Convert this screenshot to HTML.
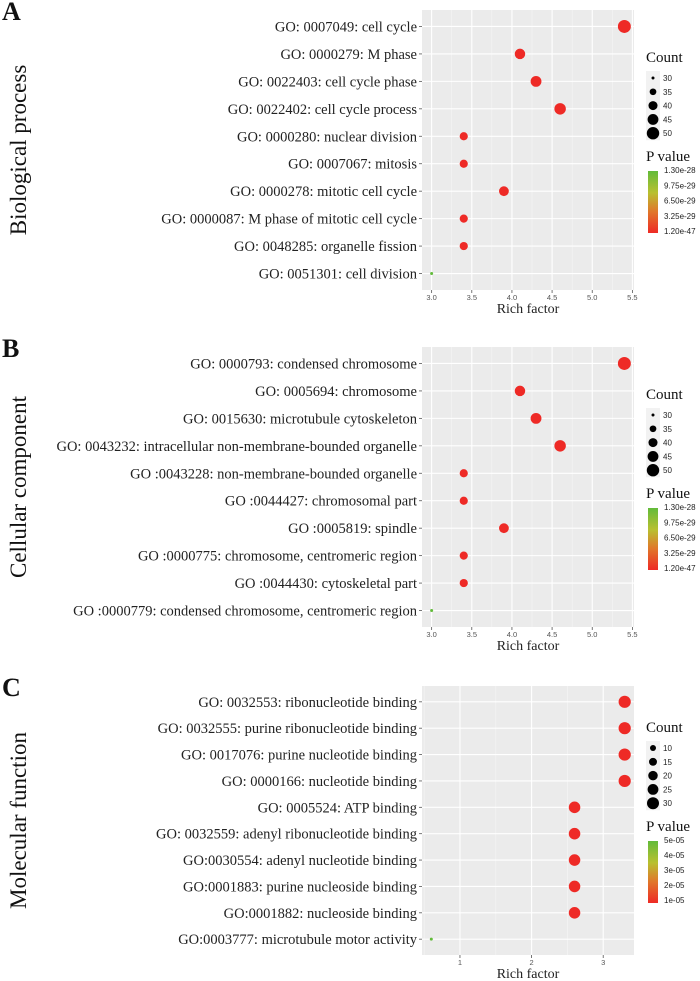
<!DOCTYPE html>
<html><head><meta charset="utf-8">
<style>
body{margin:0;background:#fff;width:700px;height:981px;overflow:hidden}
svg{display:block}
.lab{font-family:"Liberation Serif",serif;font-size:14.5px;fill:#222}
.tick{font-family:"Liberation Sans",sans-serif;font-size:7.5px;fill:#555}
.axt{font-family:"Liberation Serif",serif;font-size:14px;fill:#222}
.lt{font-family:"Liberation Serif",serif;font-size:15px;fill:#111}
.ll{font-family:"Liberation Sans",sans-serif;font-size:8px;fill:#222}
.big{font-family:"Liberation Serif",serif;font-size:23px;fill:#111}
.let{font-family:"Liberation Serif",serif;font-size:26px;font-weight:bold;fill:#111}
</style></head>
<body>
<svg id="chart" width="700" height="981" xmlns="http://www.w3.org/2000/svg">
<defs>
<linearGradient id="pg" x1="0" y1="1" x2="0" y2="0">
<stop offset="0" stop-color="#ee2a26"/><stop offset="0.35" stop-color="#e0782a"/><stop offset="0.65" stop-color="#b8c030"/><stop offset="1" stop-color="#62bb3a"/>
</linearGradient>
</defs>
</svg>
<script>
const aTerms=["GO: 0007049: cell cycle","GO: 0000279: M phase","GO: 0022403: cell cycle phase","GO: 0022402: cell cycle process","GO: 0000280: nuclear division","GO: 0007067: mitosis","GO: 0000278: mitotic cell cycle","GO: 0000087: M phase of mitotic cell cycle","GO: 0048285: organelle fission","GO: 0051301: cell division"];
const aRich=[5.4,4.1,4.3,4.6,3.4,3.4,3.9,3.4,3.4,3.0];
const aCount=[52,44,45,47,38,38,42,38,38,30];
const aP=[0,0,0,0,0,0,0,0,0,1];
const bTerms=["GO: 0000793: condensed chromosome","GO: 0005694: chromosome","GO: 0015630: microtubule cytoskeleton","GO: 0043232: intracellular non-membrane-bounded organelle","GO :0043228: non-membrane-bounded organelle","GO :0044427: chromosomal part","GO :0005819: spindle","GO :0000775: chromosome, centromeric region","GO :0044430: cytoskeletal part","GO :0000779: condensed chromosome, centromeric region"];
const bRich=[5.4,4.1,4.3,4.6,3.4,3.4,3.9,3.4,3.4,3.0];
const bCount=[52,44,45,47,38,38,42,38,38,30];
const bP=[0,0,0,0,0,0,0,0,0,1];
const cTerms=["GO: 0032553: ribonucleotide binding","GO: 0032555: purine ribonucleotide binding","GO: 0017076: purine nucleotide binding","GO: 0000166: nucleotide binding","GO: 0005524: ATP binding","GO: 0032559: adenyl ribonucleotide binding","GO:0030554: adenyl nucleotide binding","GO:0001883: purine nucleoside binding","GO:0001882: nucleoside binding","GO:0003777: microtubule motor activity"];
const cRich=[3.3,3.3,3.3,3.3,2.6,2.6,2.6,2.6,2.6,0.6];
const cCount=[31,31,31,31,28,28,28,28,28,5];
const cP=[0,0,0,0,0,0,0,0,0,1];
const abTicks=[3.0,3.5,4.0,4.5,5.0,5.5];
const abTickLabels=["3.0","3.5","4.0","4.5","5.0","5.5"];
const cTicks=[1,2,3];
const cTickLabels=["1","2","3"];
const abCountLegend=[30,35,40,45,50];
const cCountLegend=[10,15,20,25,30];
const abPLabels=["1.30e-28","9.75e-29","6.50e-29","3.25e-29","1.20e-47"];
const cPLabels=["5e-05","4e-05","3e-05","2e-05","1e-05"];

const svg=document.getElementById('chart');
const NS="http://www.w3.org/2000/svg";
function mk(t,a,p){const e=document.createElementNS(NS,t);for(const k in a)e.setAttribute(k,a[k]);(p||svg).appendChild(e);return e;}
function col(p){const r=Math.round(238+(98-238)*p),g=Math.round(42+(187-42)*p),b=Math.round(38+(58-38)*p);return `rgb(${r},${g},${b})`;}

function panel(o){
  const g=mk('g',{});
  
  
  const L=422,R=634,T=o.top,B=o.top+o.h;
  const x=v=>L+(v-o.xmin)/(o.xmax-o.xmin)*(R-L);
  const step=(B-T)/10.2;
  const y=i=>T+step*0.6+i*step;
  const rad=c=>Math.sqrt(Math.max(o.r0*o.r0,o.r0*o.r0+(c-o.c0)/(o.c1-o.c0)*(o.r1*o.r1-o.r0*o.r0)));
  const let_=mk('text',{x:2,y:T+10,class:'let'},g);let_.textContent=o.letter;
  
  const vt=mk('text',{x:0,y:0,class:'big','text-anchor':'middle',transform:`translate(26,${(T+B)/2}) rotate(-90)`},g);vt.textContent=o.title;
  
  const bg=mk('rect',{x:L,y:T,width:R-L,height:B-T,fill:'#ebebeb'},g);
  
  for(let i=0;i<o.ticks.length-1;i++){const m=(o.ticks[i]+o.ticks[i+1])/2;mk('line',{x1:x(m),x2:x(m),y1:T,y2:B,stroke:'#f5f5f5','stroke-width':0.6},g);}
  if(o.minorExtra)o.minorExtra.forEach(m=>mk('line',{x1:x(m),x2:x(m),y1:T,y2:B,stroke:'#f5f5f5','stroke-width':0.6},g));
  o.ticks.forEach((t,i)=>{
    mk('line',{x1:x(t),x2:x(t),y1:T,y2:B,stroke:'#fff','stroke-width':1.1},g);
    mk('line',{x1:x(t),x2:x(t),y1:B,y2:B+3,stroke:'#555','stroke-width':0.8},g);
    const tl=mk('text',{x:x(t),y:B+10,class:'tick','text-anchor':'middle'},g);tl.textContent=o.tickLabels[i];
    
  });
  const ax=mk('text',{x:(L+R)/2,y:B+23,class:'axt','text-anchor':'middle'},g);ax.textContent='Rich factor';
  
  o.terms.forEach((t,i)=>{
    mk('line',{x1:L,x2:R,y1:y(i),y2:y(i),stroke:'#fff','stroke-width':1.1},g);
    mk('line',{x1:L-3,x2:L,y1:y(i),y2:y(i),stroke:'#555','stroke-width':0.8},g);
    const tx=mk('text',{x:L-5,y:y(i)+5,class:'lab','text-anchor':'end'},g);tx.textContent=t;
    
  });
  o.terms.forEach((t,i)=>{
    const c=mk('circle',{cx:x(o.rich[i]),cy:y(i),r:rad(o.count[i]),fill:col(o.p[i])},g);
    
    
  });
  const lx=646, ly=T+o.legOff;
  const ct=mk('text',{x:lx,y:ly,class:'lt'},g);ct.textContent='Count';
  
  o.legCounts.forEach((c,i)=>{
    const cy=ly+16+i*13.8;
    mk('rect',{x:lx,y:cy-7,width:14,height:14,fill:'#f2f2f2'},g);
    const d=mk('circle',{cx:lx+7,cy:cy,r:rad(c),fill:'#000'},g);
    
    const lt=mk('text',{x:lx+17,y:cy+3,class:'ll'},g);lt.textContent=c;
    
  });
  const pt=mk('text',{x:lx,y:ly+99,class:'lt'},g);pt.textContent='P value';
  
  const cb=mk('rect',{x:lx+2,y:ly+109,width:10,height:62,fill:'url(#pg)'},g);
  
  o.pLabels.forEach((s,i)=>{
    const ty=o.pTop+ly+i*o.pStep;
    const lt=mk('text',{x:lx+18,y:ty+3,class:'ll'},g);lt.textContent=s;
    
  });
}
panel({name:'panel-a-biological-process',letter:'A',title:'Biological process',top:10,h:280,legOff:52,terms:aTerms,rich:aRich,count:aCount,p:aP,xmin:2.88,xmax:5.52,ticks:abTicks,tickLabels:abTickLabels,minorExtra:[],c0:30,c1:50,r0:1.5,r1:6.2,legCounts:abCountLegend,pLabels:abPLabels,pTop:108,pStep:15.3});
panel({name:'panel-b-cellular-component',letter:'B',title:'Cellular component',top:347,h:280,legOff:52,terms:bTerms,rich:bRich,count:bCount,p:bP,xmin:2.88,xmax:5.52,ticks:abTicks,tickLabels:abTickLabels,minorExtra:[],c0:30,c1:50,r0:1.5,r1:6.2,legCounts:abCountLegend,pLabels:abPLabels,pTop:108,pStep:15.3});
panel({name:'panel-c-molecular-function',letter:'C',title:'Molecular function',top:686,h:269,legOff:46,terms:cTerms,rich:cRich,count:cCount,p:cP,xmin:0.47,xmax:3.43,ticks:cTicks,tickLabels:cTickLabels,minorExtra:[0.5],c0:5,c1:30,r0:1.5,r1:6,legCounts:cCountLegend,pLabels:cPLabels,pTop:108,pStep:15});
</script>
</body></html>
